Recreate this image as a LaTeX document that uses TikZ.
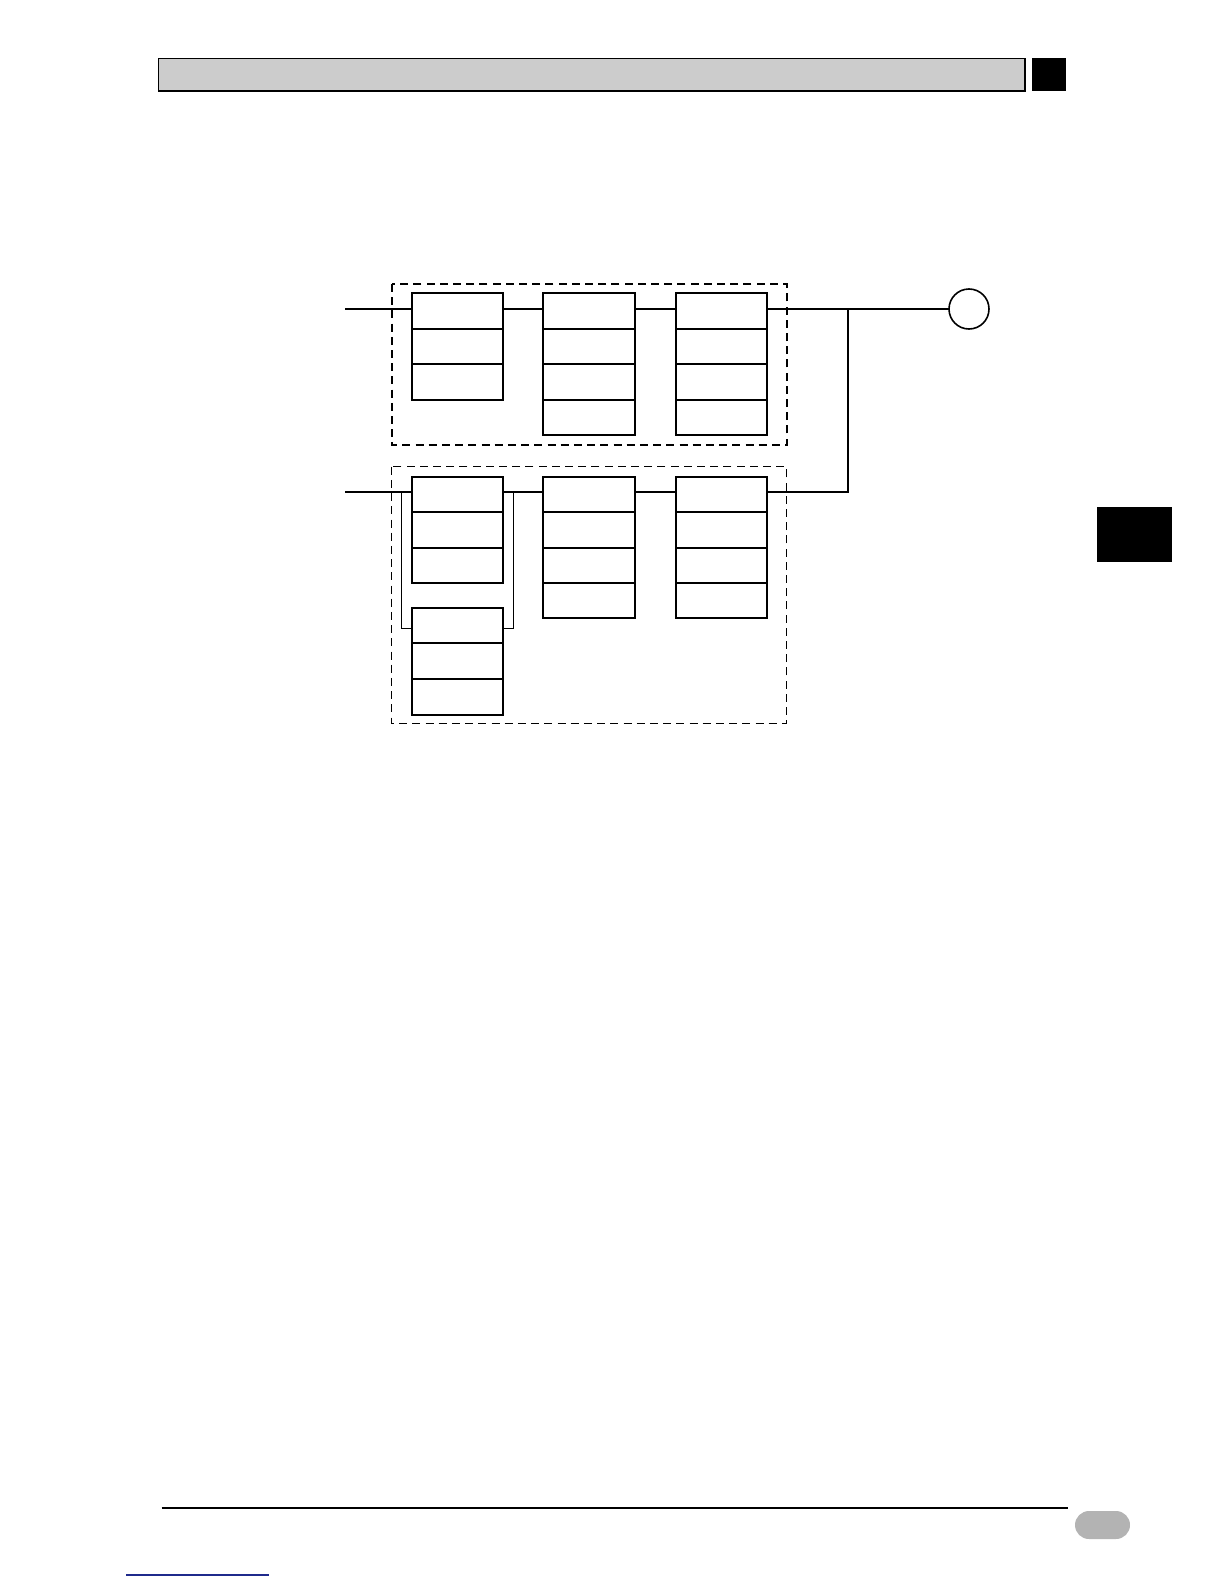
\documentclass[tikz,border=0pt]{standalone}
\usetikzlibrary{calc}
\definecolor{hdrgray}{HTML}{CCCCCC}
\definecolor{pillgray}{HTML}{B3B3B3}
\definecolor{linkblue}{HTML}{1F2A8C}
\tikzset{
  cell/.style={draw, line width=1pt, minimum width=45.75pt, minimum height=17.75pt, inner sep=0pt, outer sep=0pt},
  wire/.style={line width=1pt},
  thinwire/.style={line width=0.7pt},
  grpA/.style={line width=1pt, dash pattern=on 4pt off 2.6pt},
  grpB/.style={line width=0.6pt, dash pattern=on 4pt off 2.6pt},
  endcircle/.style={draw, circle, line width=0.8pt, minimum size=20pt, inner sep=0pt, outer sep=0pt}
}
\begin{document}
\begin{tikzpicture}[x=0.5pt,y=-0.5pt]
\useasboundingbox (0,0) rectangle (1224,1584);
% header
\draw[line width=0.7pt, fill=hdrgray] (158.5,58.5) rectangle (1025,91);
\fill[black] (1032,58.5) rectangle (1065.5,91);
% side tab
\fill[black] (1097,506.7) rectangle (1172,561.7);
% footer
\draw[line width=0.6pt] (161.5,1508) -- (1067.7,1508);
\fill[pillgray, rounded corners=7pt] (1075,1511) rectangle (1130,1539);
\draw[linkblue, line width=0.6pt] (126,1575) -- (269,1575);

% group boxes
\draw[grpA] (391.7,284) rectangle (786.7,445);
\draw[grpB] (391.7,466.7) rectangle (786.7,723.3);

% top row cells
\foreach \r in {1,2,3} {
  \node[cell] (t1\r) at (457.5, {311.05+35.5*(\r-1)}) {};
}
\foreach \r in {1,2,3,4} {
  \node[cell] (t2\r) at (589.2, {311.05+35.5*(\r-1)}) {};
  \node[cell] (t3\r) at (721.3, {311.05+35.5*(\r-1)}) {};
}
% bottom row cells
\foreach \r in {1,2,3} {
  \node[cell] (b1\r) at (457.5, {494.45+35.4*(\r-1)}) {};
  \node[cell] (l1\r) at (457.5, {625.45+35.7*(\r-1)}) {};
}
\foreach \r in {1,2,3,4} {
  \node[cell] (b2\r) at (589.2, {494.45+35.4*(\r-1)}) {};
  \node[cell] (b3\r) at (721.3, {494.45+35.4*(\r-1)}) {};
}
\node[endcircle] (out) at (969,309) {};

\coordinate (inA) at (345,309);
\coordinate (inB) at (345,491.7);
\coordinate (j) at (848.3,309);
\coordinate (bL) at (401.7,491.7);
\coordinate (bLb) at (401.7,628.3);
\coordinate (bR) at (513.3,491.7);
\coordinate (bRb) at (513.3,628.3);

% top connections
\draw[wire] (inA) -- (inA -| t11.west);
\draw[wire] (t11.east |- inA) -- (t21.west |- inA);
\draw[wire] (t21.east |- inA) -- (t31.west |- inA);
\draw[wire] (t31.east |- inA) -- (out.west);
% bottom connections
\draw[wire] (inB) -- (inB -| b11.west);
\draw[wire] (b11.east |- inB) -- (b21.west |- inB);
\draw[wire] (b21.east |- inB) -- (b31.west |- inB);
\draw[wire] (b31.east |- inB) -- (j |- inB) -- (j);
% bypass around lower first cell
\draw[thinwire] (bL) -- (bLb) -- (bLb -| l11.west);
\draw[thinwire] (bRb -| l11.east) -- (bRb) -- (bR);
\end{tikzpicture}
\end{document}
